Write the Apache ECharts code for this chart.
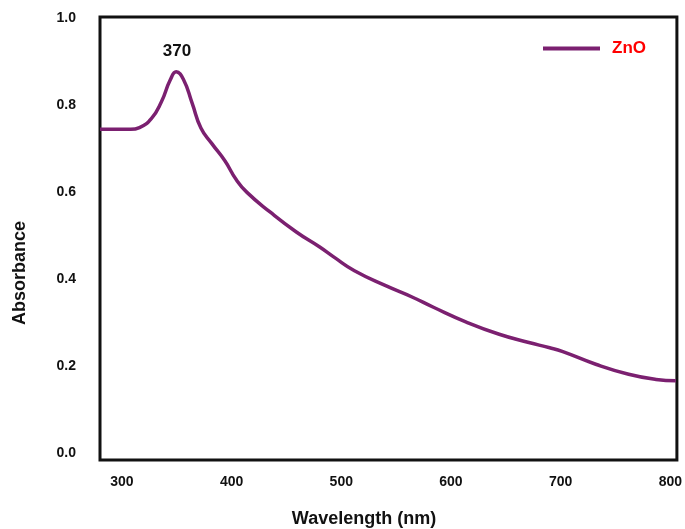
<!DOCTYPE html>
<html>
<head>
<meta charset="utf-8">
<script src="https://cdn.jsdelivr.net/npm/echarts@6/dist/echarts.min.js"></script>
<style>
html,body{margin:0;padding:0;background:#fff;}
#chart{width:685px;height:529px;}
</style>
</head>
<body>
<div id="chart"></div>
<script>
// Data
const wavelength = [280, 308, 316, 327, 336, 344, 349.5, 356, 364, 372, 382, 394, 404, 414, 435, 459, 480, 494, 512, 541, 565, 584, 614, 644, 671, 690, 702, 732, 762, 787, 805];
const absorbance = [0.745, 0.745, 0.749, 0.770, 0.808, 0.858, 0.877, 0.860, 0.805, 0.748, 0.712, 0.672, 0.630, 0.600, 0.555, 0.509, 0.475, 0.450, 0.420, 0.385, 0.359, 0.336, 0.302, 0.274, 0.255, 0.243, 0.234, 0.205, 0.182, 0.170, 0.167];
const xTicks = [300, 400, 500, 600, 700, 800];
const yTicks = [0, 0.2, 0.4, 0.6, 0.8, 1.0];
const seriesName = 'ZnO';
const peakLabel = '370';
const xTitle = 'Wavelength (nm)';
const yTitle = 'Absorbance';

const font = "'Liberation Sans', Arial, sans-serif";
const lineColor = '#7B2070';
const chart = echarts.init(document.getElementById('chart'), null, {renderer: 'canvas'});
chart.setOption({
  animation: false,
  backgroundColor: '#fff',
  grid: {left: 100, top: 17, width: 578, height: 443, show: true, borderColor: '#111', borderWidth: 3, containLabel: false},
  xAxis: {
    type: 'value', min: 280, max: 806,
    axisLine: {show: false}, axisTick: {show: false}, splitLine: {show: false},
    axisLabel: {customValues: xTicks, margin: 15, color: '#111', fontFamily: font, fontWeight: 'bold', fontSize: 14}
  },
  yAxis: {
    type: 'value', min: -0.015, max: 1.003,
    axisLine: {show: false}, axisTick: {show: false}, splitLine: {show: false},
    axisLabel: {customValues: yTicks, margin: 24, color: '#111', fontFamily: font, fontWeight: 'bold', fontSize: 14,
      formatter: v => v.toFixed(1)}
  },
  legend: {
    left: 538, top: 35, icon: 'rect', itemWidth: 57, itemHeight: 4, itemGap: 10,
    data: [{name: seriesName, itemStyle: {color: lineColor}}],
    textStyle: {color: '#ff0000', fontFamily: font, fontWeight: 'bold', fontSize: 17, padding: [0, 0, 0, 7]}
  },
  graphic: [
    {type: 'text', x: 177, y: 51, style: {text: peakLabel, fill: '#111', font: 'bold 17px ' + font, align: 'center', verticalAlign: 'middle'}},
    {type: 'text', x: 364, y: 519, style: {text: xTitle, fill: '#111', font: 'bold 18px ' + font, align: 'center', verticalAlign: 'middle'}},
    {type: 'text', x: 20, y: 273, rotation: Math.PI / 2, style: {text: yTitle, fill: '#111', font: 'bold 18px ' + font, align: 'center', verticalAlign: 'middle'}}
  ],
  series: [{
    name: seriesName, type: 'line', data: wavelength.map((w, i) => [w, absorbance[i]]),
    smooth: 0.5, showSymbol: false, symbol: 'none',
    lineStyle: {color: lineColor, width: 3.5}, itemStyle: {color: lineColor}
  }]
});
</script>
</body>
</html>
